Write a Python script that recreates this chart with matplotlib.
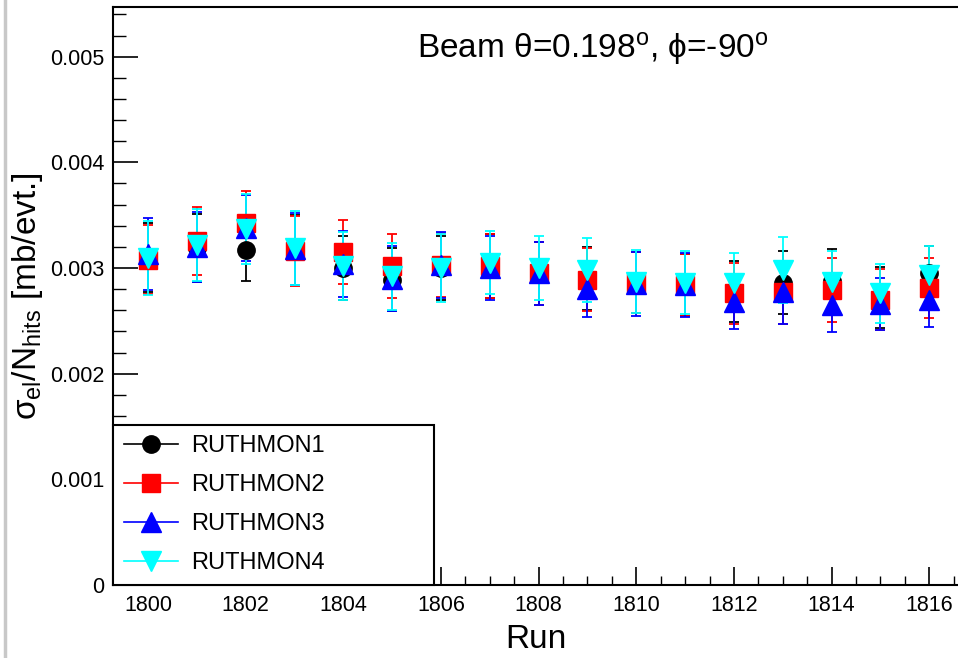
import matplotlib
matplotlib.use("Agg")
import matplotlib.pyplot as plt
from matplotlib.lines import Line2D
from matplotlib.ticker import MultipleLocator

plt.rcParams['font.family'] = ['Liberation Sans', 'DejaVu Sans']
plt.rcParams['mathtext.fontset'] = 'custom'
plt.rcParams['mathtext.rm'] = 'Liberation Sans'
plt.rcParams['mathtext.it'] = 'Liberation Sans:italic'

# run numbers and ratios (units of 1e-3 mb/evt.)
runs = list(range(1800, 1817))
ruthmon1 = [3.10, 3.19, 3.175, 3.17, 3.00, 2.89, 3.00, 3.02, 2.95, 2.90, 2.86, 2.84, 2.78, 2.86, 2.88, 2.72, 2.95]
ruthmon2 = [3.08, 3.255, 3.43, 3.16, 3.15, 3.02, 3.03, 3.02, 2.95, 2.89, 2.86, 2.84, 2.76, 2.77, 2.79, 2.70, 2.81]
ruthmon3 = [3.13, 3.20, 3.38, 3.18, 3.04, 2.90, 3.03, 3.00, 2.95, 2.80, 2.85, 2.84, 2.68, 2.77, 2.65, 2.66, 2.70]
ruthmon4 = [3.095, 3.22, 3.37, 3.19, 3.02, 2.92, 3.00, 3.05, 3.00, 2.98, 2.87, 2.86, 2.86, 2.98, 2.87, 2.76, 2.93]
err1 = [0.33, 0.32, 0.30, 0.33, 0.30, 0.30, 0.30, 0.30, 0.30, 0.30, 0.29, 0.29, 0.29, 0.30, 0.30, 0.29, 0.26]
err2 = [0.33, 0.32, 0.30, 0.33, 0.30, 0.30, 0.30, 0.30, 0.30, 0.30, 0.29, 0.29, 0.29, 0.30, 0.30, 0.29, 0.28]
err3 = [0.34, 0.33, 0.31, 0.34, 0.31, 0.31, 0.31, 0.30, 0.30, 0.26, 0.30, 0.30, 0.26, 0.30, 0.26, 0.25, 0.26]
err4 = [0.35, 0.34, 0.33, 0.35, 0.32, 0.32, 0.32, 0.30, 0.30, 0.30, 0.30, 0.30, 0.28, 0.31, 0.29, 0.28, 0.28]
labels = ['RUTHMON1', 'RUTHMON2', 'RUTHMON3', 'RUTHMON4']

series = [ruthmon1, ruthmon2, ruthmon3, ruthmon4]
errors = [err1, err2, err3, err4]
colors = ['black', '#ff0000', '#0000ff', '#00ffff']
markers = ['o', 's', '^', 'v']
msizes = [12.5, 13, 14, 14]

fig = plt.figure(figsize=(9.58, 6.58), dpi=100)
ax = fig.add_axes([113/958, 73/658, 845/958, 578/658])

for vals, errs, c, m, ms, lab in zip(series, errors, colors, markers, msizes, labels):
    y = [v*1e-3 for v in vals]
    e = [v*1e-3 for v in errs]
    ax.errorbar(runs, y, yerr=e, fmt=m, color=c, ms=ms, mec=c, mfc=c,
                elinewidth=1.3, capsize=3.5, capthick=1.3, label=lab, linestyle='-', lw=0)

ax.set_xlim(1799.28, 1816.59)
ax.set_ylim(0, 0.00547)
ax.xaxis.set_major_locator(MultipleLocator(2))
ax.xaxis.set_minor_locator(MultipleLocator(0.5))
ax.yaxis.set_major_locator(MultipleLocator(0.001))
ax.yaxis.set_minor_locator(MultipleLocator(0.0002))
ax.yaxis.set_major_formatter(matplotlib.ticker.FuncFormatter(lambda v, p: '0' if v == 0 else '%.3f' % v))
ax.tick_params(axis='y', which='major', direction='in', length=18, width=1.2, labelsize=15.5, pad=6)
ax.tick_params(axis='y', which='minor', direction='in', length=9, width=1.0)
ax.tick_params(axis='x', which='major', direction='in', length=13, width=1.2, labelsize=15.5, pad=7)
ax.tick_params(axis='x', which='minor', direction='in', length=6.5, width=1.0)
ax.spines['right'].set_visible(False)
for s in ['left', 'bottom', 'top']:
    ax.spines[s].set_linewidth(1.5)

ax.set_xlabel('Run', fontsize=24, labelpad=6)
ax.set_ylabel('σ$_{\\rm el}$/N$_{\\rm hits}$ [mb/evt.]', fontsize=24, labelpad=4)

ax.text(0.568, 0.928, 'Beam θ=0.198$^{\\rm o}$, ϕ=-90$^{\\rm o}$', transform=ax.transAxes,
        fontsize=24, ha='center', va='center')

handles = [Line2D([0], [0], color=c, marker=m, ms=ms, lw=1.2) for c, m, ms in zip(colors, markers, msizes)]
leg = ax.legend(handles, labels, loc='lower left', bbox_to_anchor=(113/958, 73/658, 321/958, 157/658),
                bbox_transform=fig.transFigure, mode='expand', borderaxespad=0, fontsize=17,
                fancybox=False, framealpha=1, edgecolor='black', handlelength=2.3,
                handletextpad=0.55, labelspacing=0.72, borderpad=0.45)
leg.get_frame().set_linewidth(1.5)
leg.set_zorder(10)

# grey border line at the left edge of the picture
fig.add_artist(Line2D([5/958, 5/958], [0, 1], color='#c8c8c8', lw=2.5, transform=fig.transFigure))

fig.savefig('out.png', dpi=100)
